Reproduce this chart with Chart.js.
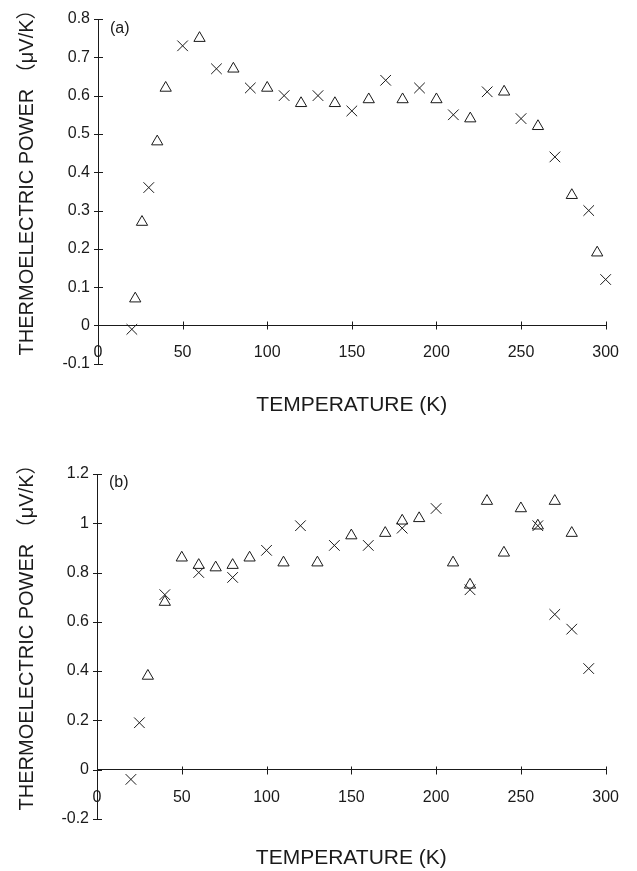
<!DOCTYPE html>
<html>
<head>
<meta charset="utf-8">
<script src="https://cdn.jsdelivr.net/npm/chart.js@4/dist/chart.umd.min.js"></script>
<style>
    html, body { margin: 0; padding: 0; background: #fff; }
    canvas { display: block; }
</style>
</head>
<body>
<canvas id="chartA" width="637" height="435"></canvas>
<canvas id="chartB" width="637" height="436"></canvas>
<script>
// panel (a): temperature (K) and thermoelectric power (uV/K)
const aCrossT = [20, 30, 50, 70, 90, 110, 130, 150, 170, 190, 210, 230, 250, 270, 290, 300];
const aCrossS = [-0.01, 0.36, 0.73, 0.67, 0.62, 0.60, 0.60, 0.56, 0.64, 0.62, 0.55, 0.61, 0.54, 0.44, 0.30, 0.12];
const aTriT = [22, 26, 35, 40, 60, 80, 100, 120, 140, 160, 180, 200, 220, 240, 260, 280, 295];
const aTriS = [0.07, 0.27, 0.48, 0.62, 0.75, 0.67, 0.62, 0.58, 0.58, 0.59, 0.59, 0.59, 0.54, 0.61, 0.52, 0.34, 0.19];

// panel (b)
const bCrossT = [20, 25, 40, 60, 80, 100, 120, 140, 160, 180, 200, 220, 260, 270, 280, 290];
const bCrossS = [-0.04, 0.19, 0.71, 0.80, 0.78, 0.89, 0.99, 0.91, 0.91, 0.98, 1.06, 0.73, 0.99, 0.63, 0.57, 0.41];
const bTriT = [30, 40, 50, 60, 70, 80, 90, 110, 130, 150, 170, 180, 190, 210, 220, 230, 240, 250, 260, 270, 280];
const bTriS = [0.38, 0.68, 0.86, 0.83, 0.82, 0.83, 0.86, 0.84, 0.84, 0.95, 0.96, 1.01, 1.02, 0.84, 0.75, 1.09, 0.88, 1.06, 0.99, 1.09, 0.96];

const xTitle = 'TEMPERATURE (K)';
const yTitle = 'THERMOELECTRIC POWER （μV/K）';

const ink = '#1a1a1a';
const family = '"Liberation Sans", Arial, "Noto Sans CJK JP", sans-serif';

function toPoints(t, s) {
    return t.map((x, i) => ({ x: x, y: s[i] }));
}

// cross ticks on both axes, panel letter and rotated y title
const figureDecor = {
    id: 'figureDecor',
    afterDraw(chart, args, opts) {
        const { ctx, chartArea, scales } = chart;
        const xs = scales.x, ys = scales.y;
        const y0 = Math.round(ys.getPixelForValue(0)) + 0.5;
        ctx.save();
        ctx.strokeStyle = ink;
        ctx.lineWidth = 1;
        ctx.beginPath();
        ys.ticks.forEach(t => {
            const py = Math.round(ys.getPixelForValue(t.value)) + 0.5;
            ctx.moveTo(chartArea.left - 4, py);
            ctx.lineTo(chartArea.left + 5, py);
        });
        xs.ticks.forEach(t => {
            const px = Math.round(xs.getPixelForValue(t.value)) + 0.5;
            ctx.moveTo(px, y0 - 4);
            ctx.lineTo(px, y0 + 4);
        });
        ctx.stroke();

        ctx.fillStyle = ink;
        ctx.textBaseline = 'middle';
        ctx.textAlign = 'left';
        ctx.font = '16px ' + family;
        ctx.fillText(opts.label, chartArea.left + 12, chartArea.top + opts.labelDy);

        ctx.translate(27, (chartArea.top + chartArea.bottom) / 2 - 14);
        ctx.rotate(-Math.PI / 2);
        ctx.textAlign = 'center';
        ctx.font = '20px ' + family;
        ctx.fillText(yTitle, 0, 0);
        ctx.restore();
    }
};

function makePanel(id, o) {
    const common = {
        showLine: false,
        borderColor: ink,
        backgroundColor: 'rgba(0,0,0,0)',
        borderWidth: 1,
        clip: false
    };
    return new Chart(document.getElementById(id), {
        type: 'scatter',
        data: {
            datasets: [
                Object.assign({ data: toPoints(o.crossT, o.crossS), pointStyle: 'crossRot', pointRadius: 7.5 }, common),
                Object.assign({ data: toPoints(o.triT, o.triS), pointStyle: 'triangle', pointRadius: 6.5 }, common)
            ]
        },
        options: {
            responsive: false,
            animation: false,
            events: [],
            layout: { padding: o.padding },
            scales: {
                x: {
                    type: 'linear',
                    position: { y: 0 },
                    min: 0, max: 300,
                    grid: { display: false, drawTicks: false },
                    border: { display: true, color: ink, width: 1 },
                    ticks: { stepSize: 50, padding: 18, color: ink, font: { size: 16, family: family } }
                },
                y: {
                    type: 'linear',
                    min: o.yMin, max: o.yMax,
                    grid: { display: false, drawTicks: false },
                    border: { display: true, color: ink, width: 1 },
                    ticks: {
                        stepSize: o.yStep, padding: 8, color: ink,
                        font: { size: 16, family: family },
                        callback: v => String(+v.toFixed(1))
                    },
                    afterFit: s => { s.width = o.yWidth; }
                }
            },
            plugins: {
                legend: { display: false },
                tooltip: { enabled: false },
                title: {
                    display: true,
                    position: 'bottom',
                    fullSize: false,
                    text: xTitle,
                    color: ink,
                    font: { size: 21, weight: 'normal', family: family },
                    padding: o.titlePad
                },
                figureDecor: { label: o.label, labelDy: o.labelDy }
            }
        },
        plugins: [figureDecor]
    });
}

makePanel('chartA', {
    crossT: aCrossT, crossS: aCrossS, triT: aTriT, triS: aTriS,
    yMin: -0.1, yMax: 0.8, yStep: 0.1, yWidth: 98,
    padding: { top: 19, right: 22, bottom: 0, left: 0 },
    titlePad: { top: 29, bottom: 17 },
    label: '(a)', labelDy: 10
});

makePanel('chartB', {
    crossT: bCrossT, crossS: bCrossS, triT: bTriT, triS: bTriS,
    yMin: -0.2, yMax: 1.2, yStep: 0.2, yWidth: 97,
    padding: { top: 39, right: 23, bottom: 0, left: 0 },
    titlePad: { top: 27, bottom: 0 },
    label: '(b)', labelDy: 9
});
</script>
</body>
</html>
